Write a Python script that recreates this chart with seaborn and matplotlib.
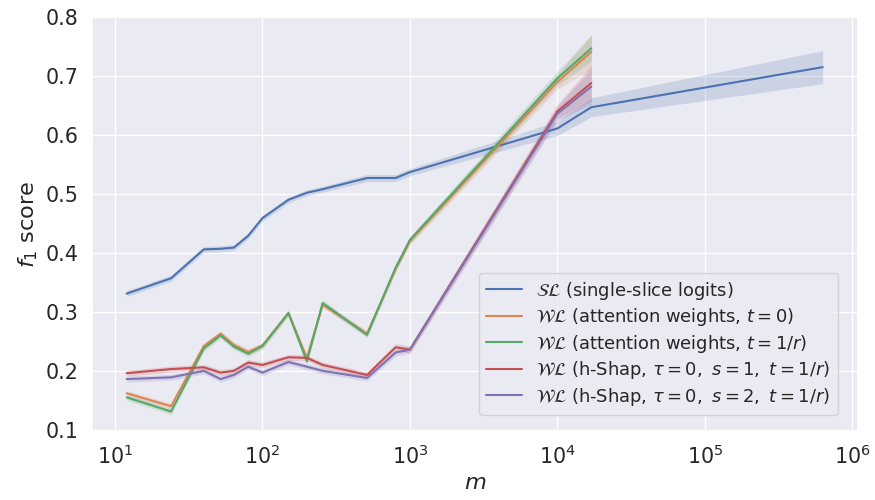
import numpy as np
import pandas as pd
import matplotlib
matplotlib.use("Agg")
import matplotlib.pyplot as plt
import seaborn as sns

# ---- data ----
m_common = [12, 24, 40, 52, 64, 80, 100, 150, 200, 256, 512, 800, 1000, 10000, 17000]
m_sl = m_common + [630000]

sl_vals = [0.331, 0.357, 0.406, 0.407, 0.409, 0.429, 0.459, 0.490, 0.502, 0.508,
           0.527, 0.527, 0.537, 0.611, 0.647, 0.715]
sl_err = [0.005, 0.005, 0.005, 0.005, 0.005, 0.005, 0.005, 0.005, 0.005, 0.005,
          0.006, 0.006, 0.006, 0.012, 0.016, 0.028]

att0_vals = [0.162, 0.140, 0.242, 0.263, 0.244, 0.232, 0.243, 0.298, 0.222, 0.312,
             0.263, 0.373, 0.420, 0.690, 0.741]
att0_err = [0.005, 0.005, 0.005, 0.005, 0.005, 0.005, 0.005, 0.005, 0.005, 0.005,
            0.005, 0.006, 0.006, 0.012, 0.030]

att1_vals = [0.155, 0.131, 0.238, 0.260, 0.241, 0.229, 0.242, 0.298, 0.216, 0.315,
             0.261, 0.375, 0.422, 0.696, 0.747]
att1_err = [0.005, 0.005, 0.005, 0.005, 0.005, 0.005, 0.005, 0.005, 0.005, 0.005,
            0.005, 0.006, 0.006, 0.012, 0.022]

hs1_vals = [0.196, 0.203, 0.206, 0.197, 0.200, 0.214, 0.210, 0.223, 0.222, 0.210,
            0.193, 0.240, 0.236, 0.640, 0.688]
hs1_err = [0.005, 0.005, 0.005, 0.005, 0.005, 0.005, 0.005, 0.005, 0.005, 0.005,
           0.005, 0.006, 0.006, 0.012, 0.030]

hs2_vals = [0.186, 0.189, 0.200, 0.186, 0.193, 0.207, 0.197, 0.215, 0.207, 0.200,
            0.188, 0.231, 0.236, 0.636, 0.682]
hs2_err = [0.005, 0.005, 0.005, 0.005, 0.005, 0.005, 0.005, 0.005, 0.005, 0.005,
           0.005, 0.006, 0.006, 0.012, 0.030]

labels = [
    r'$\mathcal{SL}$ (single-slice logits)',
    r'$\mathcal{WL}$ (attention weights, $t=0$)',
    r'$\mathcal{WL}$ (attention weights, $t=1/r$)',
    r'$\mathcal{WL}$ (h-Shap, $\tau=0,\ s=1,\ t=1/r$)',
    r'$\mathcal{WL}$ (h-Shap, $\tau=0,\ s=2,\ t=1/r$)',
]

series = [
    (labels[0], m_sl, sl_vals, sl_err),
    (labels[1], m_common, att0_vals, att0_err),
    (labels[2], m_common, att1_vals, att1_err),
    (labels[3], m_common, hs1_vals, hs1_err),
    (labels[4], m_common, hs2_vals, hs2_err),
]

rows = []
for lab, xs, ys, es in series:
    for x, y, e in zip(xs, ys, es):
        rows.append({"m": x, "f1": y, "err": e, "method": lab})
df = pd.DataFrame(rows)

sns.set_theme(style="darkgrid", context="notebook", font_scale=1.35)
plt.rcParams['font.family'] = ['DejaVu Sans']

fig = plt.figure(figsize=(8.75, 5), dpi=100)
ax = fig.add_axes([0.105, 0.138, 0.875, 0.828])

palette = sns.color_palette("deep", 5)
sns.lineplot(data=df, x="m", y="f1", hue="method", hue_order=labels,
             palette=palette, ax=ax, errorbar=None)

for (lab, xs, ys, es), c in zip(series, palette):
    sub = df[df["method"] == lab]
    ax.fill_between(sub["m"], sub["f1"] - sub["err"], sub["f1"] + sub["err"],
                    color=c, alpha=0.2, linewidth=0)

ax.set_xscale("log")
ax.set_ylim(0.098, 0.8)
ax.set_xlabel(r'$m$')
ax.set_ylabel(r'$f_1$ score')

ax.legend(loc="lower right", bbox_to_anchor=(0.974, 0.039), borderaxespad=0,
          fontsize=12.9, labelspacing=0.25)

fig.savefig("out.png", dpi=100)
